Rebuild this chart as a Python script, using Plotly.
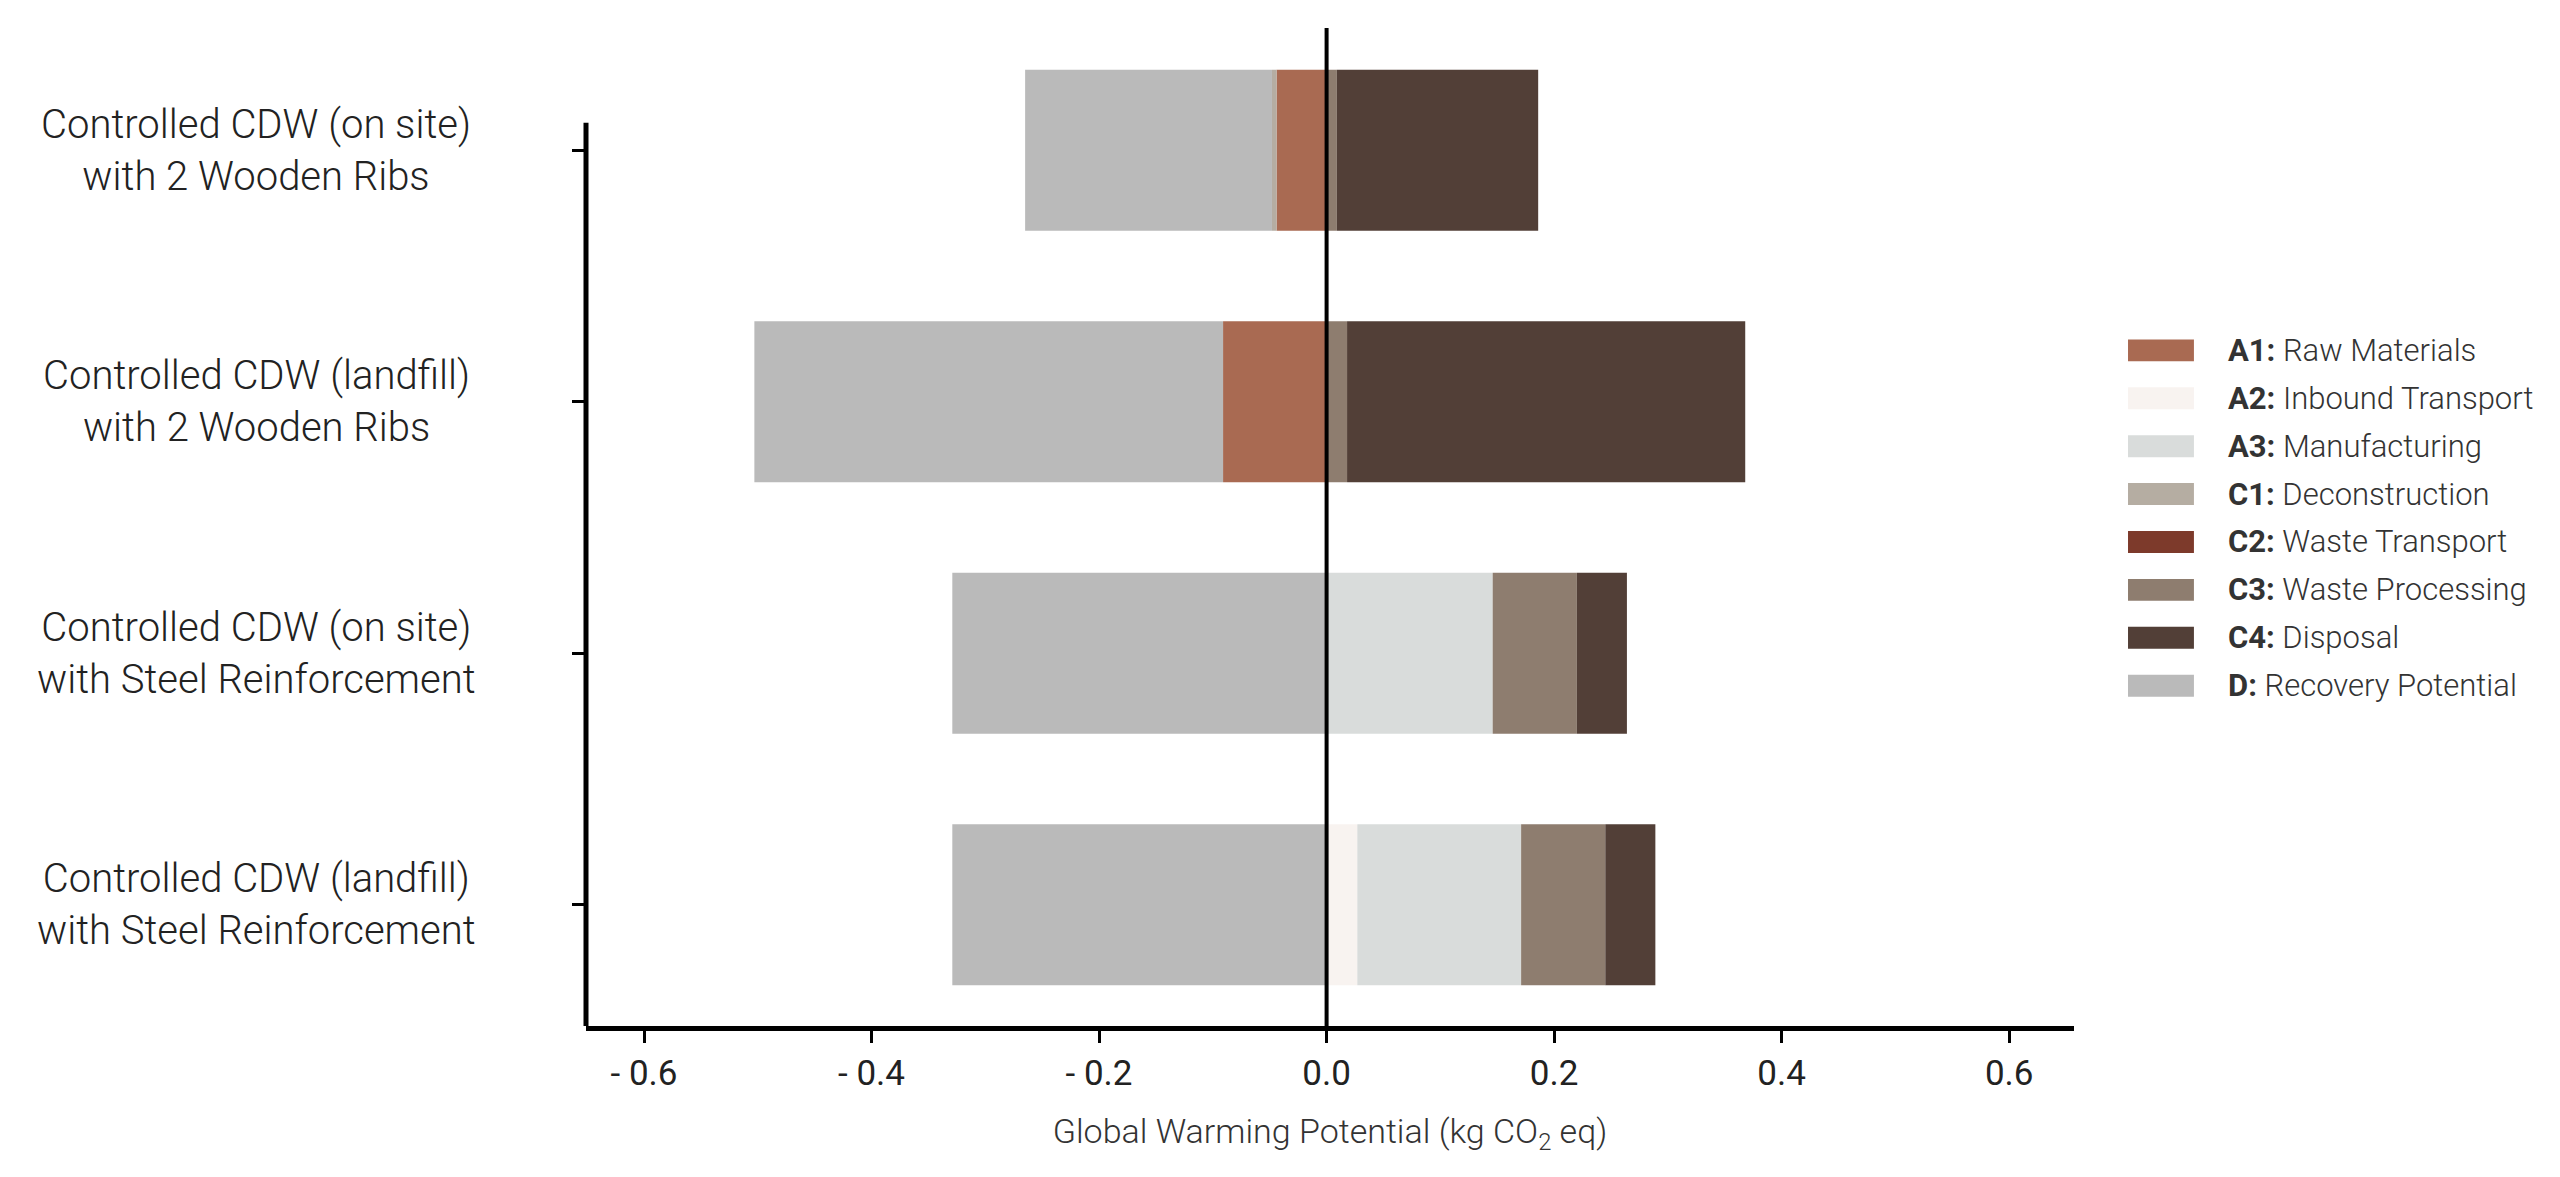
import plotly.graph_objects as go

# scenarios (top to bottom)
scenarios = [
    "Controlled CDW (on site)<br>with 2 Wooden Ribs",
    "Controlled CDW (landfill)<br>with 2 Wooden Ribs",
    "Controlled CDW (on site)<br>with Steel Reinforcement",
    "Controlled CDW (landfill)<br>with Steel Reinforcement",
]

# life-cycle stages, kg CO2 eq per scenario
stage_codes = ["A1", "A2", "A3", "C1", "C2", "C3", "C4", "D"]
stage_names = ["Raw Materials", "Inbound Transport", "Manufacturing", "Deconstruction",
               "Waste Transport", "Waste Processing", "Disposal", "Recovery Potential"]
stage_colors = ["#a96a52", "#f8f3f0", "#d9dcdb", "#b5ada2",
                "#7d3a2b", "#8e7d6f", "#523f37", "#bababa"]

a1 = [-0.044, -0.091, 0.0, 0.0]
a2 = [0.0, 0.0, 0.0, 0.027]
a3 = [0.0, 0.0, 0.146, 0.144]
c1 = [-0.004, 0.0, 0.0, 0.0]
c2 = [0.0, 0.0, 0.0, 0.0]
c3 = [0.009, 0.018, 0.074, 0.074]
c4 = [0.177, 0.350, 0.044, 0.044]
d = [-0.217, -0.412, -0.329, -0.329]
stage_values = [a1, a2, a3, c1, c2, c3, c4, d]

x_ticks = [-0.6, -0.4, -0.2, 0.0, 0.2, 0.4, 0.6]
x_ticktext = ["- 0.6", "- 0.4", "- 0.2", "0.0", "0.2", "0.4", "0.6"]

FONT = "Roboto, sans-serif"

fig = go.Figure()
for code, name, col, vals in zip(stage_codes, stage_names, stage_colors, stage_values):
    fig.add_trace(go.Bar(
        y=scenarios, x=vals, orientation="h", name=code,
        marker=dict(color=col, line=dict(width=0)),
        showlegend=False,
    ))

fig.update_layout(
    width=2560, height=1177,
    barmode="relative", bargap=0.36,
    plot_bgcolor="white", paper_bgcolor="white",
    margin=dict(l=578, r=494, t=20, b=159),
    font=dict(family=FONT, color="#222222"),
)

fig.update_xaxes(
    range=[-0.651, 0.657],
    tickvals=x_ticks, ticktext=x_ticktext,
    ticks="outside", ticklen=12, tickwidth=3, tickcolor="black",
    tickfont=dict(size=35, color="#222222"),
    showline=True, linewidth=5, linecolor="black",
    showgrid=False, zeroline=False,
    title=dict(text="Global Warming Potential (kg CO<sub>2</sub> eq)",
               font=dict(size=34, color="#333333", weight=300), standoff=28),
)
fig.update_yaxes(
    range=[3.482, -0.486],
    ticks="outside", ticklen=13, tickwidth=3, tickcolor="black",
    showticklabels=False, showline=False, showgrid=False, zeroline=False,
)

# partial left spine and zero line
fig.add_shape(type="line", xref="paper", yref="y", x0=0, x1=0, y0=-0.109, y1=3.482,
              line=dict(color="black", width=5))
fig.add_shape(type="line", xref="x", yref="paper", x0=0, x1=0, y0=0, y1=1,
              line=dict(color="black", width=4), layer="above")

# category labels, centered lines
for s in scenarios:
    fig.add_annotation(x=0, xref="paper", y=s, yref="y", text=s, showarrow=False,
                       xanchor="center", align="center", xshift=-330,
                       font=dict(size=40, color="#222222", weight=300))

# legend built from the stage lists
for i, (code, name, col) in enumerate(zip(stage_codes, stage_names, stage_colors)):
    yc = 0.677 - 0.048 * i
    fig.add_shape(type="rect", xref="paper", yref="paper",
                  x0=1.0363, x1=1.0806, y0=yc - 0.011, y1=yc + 0.011,
                  fillcolor=col, line=dict(width=0))
    fig.add_annotation(x=1.1022, xref="paper", y=yc, yref="paper",
                       text="<b>" + code + ":</b> " + name, showarrow=False,
                       xanchor="left", yanchor="middle",
                       font=dict(size=31, color="#333333", weight=300))

fig.write_html("out.html")
